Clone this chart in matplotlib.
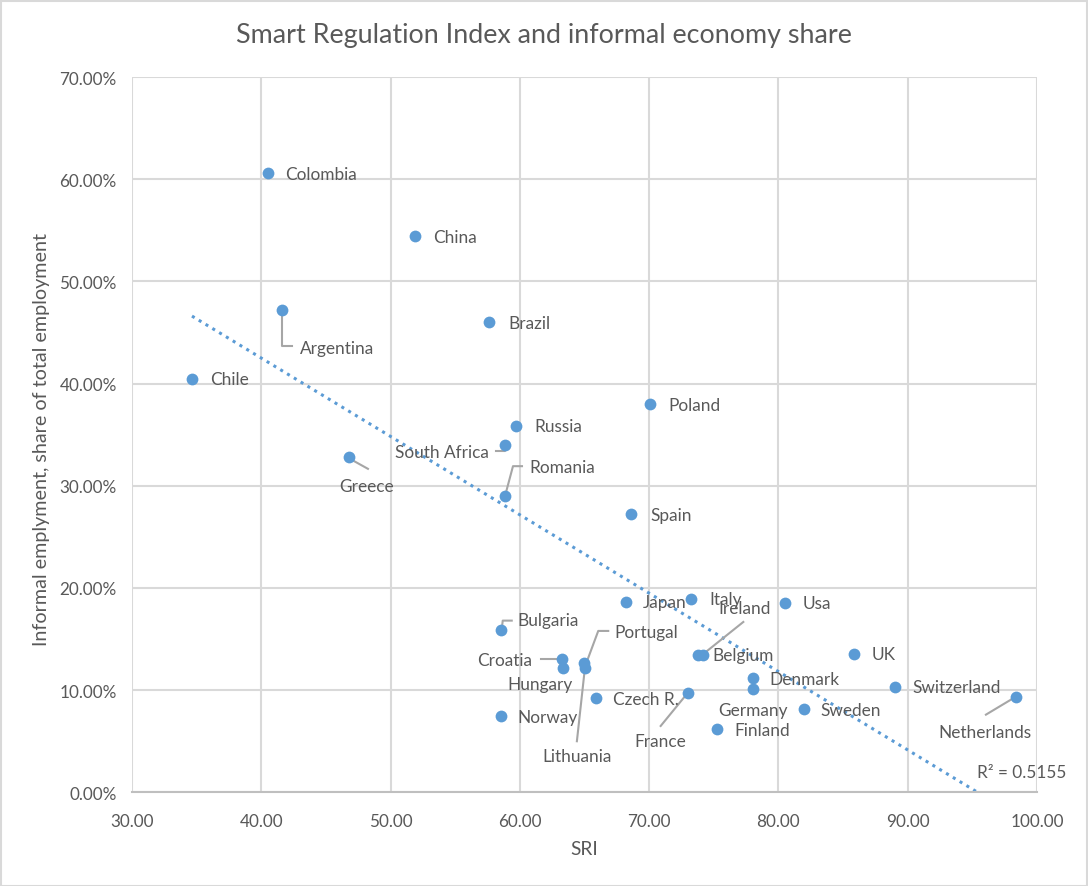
import numpy as np
import matplotlib
matplotlib.use("Agg")
import matplotlib.pyplot as plt
from matplotlib.lines import Line2D
from matplotlib.patches import Rectangle
from matplotlib.ticker import FuncFormatter, MultipleLocator

countries = ["Colombia", "China", "Argentina", "Brazil", "Chile", "Poland", "Russia",
             "South Africa", "Romania", "Greece", "Spain", "Japan", "Italy", "Usa",
             "Bulgaria", "Belgium", "Ireland", "UK", "Croatia", "Hungary", "Portugal",
             "Lithuania", "Czech R.", "Norway", "France", "Denmark", "Germany",
             "Switzerland", "Netherlands", "Sweden", "Finland"]
sri = [40.52, 51.89, 41.60, 57.61, 34.64, 70.06, 59.70,
       58.85, 58.85, 46.78, 68.59, 68.21, 73.26, 80.50,
       58.52, 73.80, 74.19, 85.84, 63.23, 63.31, 64.98,
       65.03, 65.89, 58.52, 72.98, 78.00, 78.00,
       89.01, 98.37, 81.95, 75.22]
informal = [0.6063, 0.5447, 0.4722, 0.4605, 0.4046, 0.3802, 0.3589,
            0.3400, 0.2898, 0.3283, 0.2725, 0.1860, 0.1893, 0.1853,
            0.1592, 0.1344, 0.1344, 0.1354, 0.1305, 0.1217, 0.1266,
            0.1214, 0.0920, 0.0744, 0.0972, 0.1122, 0.1011,
            0.1034, 0.0936, 0.0816, 0.0620]
r2_text = "R² = 0.5155"
title = "Smart Regulation Index and informal economy share"
x_title = "SRI"
y_title = "Informal emplyment, share of total employment"

# label placement: (dx px, dy px (down positive), ha, leader path offsets in px or None)
placement = {
    "Colombia": (17, 1, "left", None),
    "China": (18, 1, "left", None),
    "Argentina": (18, 38, "left", [(0, 0), (0, 36), (10, 36)]),
    "Brazil": (19, 1, "left", None),
    "Chile": (18, 0, "left", None),
    "Poland": (18, 1, "left", None),
    "Russia": (18, 0, "left", None),
    "South Africa": (-16, 7, "right", [(0, 0), (0, 6), (-9, 6)]),
    "Romania": (24, -29, "left", [(0, 0), (8, -30), (17, -30)]),
    "Greece": (18, 29, "center", [(1, 2), (19, 12)]),
    "Spain": (19, 1, "left", None),
    "Japan": (17, 0, "left", None),
    "Italy": (18, 0, "left", None),
    "Usa": (18, 0, "left", None),
    "Bulgaria": (17, -10, "left", [(1, 0), (2, -9), (11, -9)]),
    "Belgium": (14, 0, "left", None),
    "Ireland": (41, -47, "center", [(0, -1), (40, -33)]),
    "UK": (18, 0, "left", None),
    "Croatia": (-29, 1, "right", [(0, 0), (-21, 0)]),
    "Hungary": (-23, 16, "center", None),
    "Portugal": (30, -31, "left", [(1, 3), (14, -32), (24, -32)]),
    "Lithuania": (-8, 88, "center", [(0, 0), (-8, 73)]),
    "Czech R.": (17, 1, "left", None),
    "Norway": (17, 1, "left", None),
    "France": (-27, 48, "center", [(0, 0), (-27, 33)]),
    "Denmark": (17, 1, "left", None),
    "Germany": (0, 21, "center", None),
    "Switzerland": (17, 0, "left", None),
    "Netherlands": (-31, 35, "center", [(0, 0), (-30, 18)]),
    "Sweden": (17, 1, "left", None),
    "Finland": (18, 1, "left", None),
}

plt.rcParams['font.family'] = ['Lato', 'DejaVu Sans']
text_color = "#595959"
dot_color = "#5B9BD5"
grid_color = "#D9D9D9"
W, H = 1088, 887

fig = plt.figure(figsize=(W / 100, H / 100), dpi=100)
ax = fig.add_axes([132 / W, 1 - 793.3 / H, (1037 - 132) / W, (793.3 - 78) / H])
ax.set_xlim(30, 100)
ax.set_ylim(0, 0.7)
ax.xaxis.set_major_locator(MultipleLocator(10))
ax.yaxis.set_major_locator(MultipleLocator(0.1))
ax.xaxis.set_major_formatter(FuncFormatter(lambda v, p: f"{v:.2f}"))
ax.yaxis.set_major_formatter(FuncFormatter(lambda v, p: f"{v * 100:.2f}%"))
ax.grid(True, color=grid_color, linewidth=1.5)
ax.set_axisbelow(True)
for s in ["top", "right", "left"]:
    ax.spines[s].set_visible(False)
ax.spines["bottom"].set_color("#BFBFBF")
ax.spines["bottom"].set_linewidth(1.5)
ax.tick_params(length=0, colors=text_color, labelsize=12.3)
ax.tick_params(axis="x", pad=15)
ax.tick_params(axis="y", pad=11)

# trendline (linear least squares)
xs = np.array(sri)
ys = np.array(informal)
m, b = np.polyfit(xs, ys, 1)
x_end = min(100.0, -b / m)
tx = np.array([xs.min(), x_end])
ax.plot(tx, m * tx + b, linestyle=(0, (1, 1.6)), color=dot_color, linewidth=2.2, zorder=2)

ax.scatter(xs, ys, s=72, color=dot_color, zorder=4, linewidths=0)

for name, x, y in zip(countries, sri, informal):
    dx, dy, ha, path = placement[name]
    ax.annotate(name, (x, y), xytext=(dx, -dy), textcoords="offset pixels",
                ha=ha, va="center", fontsize=12.4, color=text_color, zorder=5)
    if path is not None:
        px, py = ax.transData.transform((x, y))
        lx = [px + p[0] for p in path]
        ly = [py - p[1] for p in path]
        ax.add_line(Line2D(lx, ly, transform=None, color="#A6A6A6", linewidth=1.5, zorder=3))

ax.annotate(r2_text, (1, 0), xycoords="axes fraction", xytext=(-60, 20),
            textcoords="offset pixels", ha="left", va="center", fontsize=12.4,
            color=text_color)

fig.text(584 / W, 1 - 850 / H, x_title, ha="center", va="center", fontsize=13.8,
         color=text_color)
fig.text(41.5 / W, 1 - 440 / H, y_title, ha="center", va="center", rotation=90,
         fontsize=14.2, color=text_color)
fig.text(544 / W, 1 - 36 / H, title, ha="center", va="center", fontsize=19.4,
         color=text_color)

fig.patches.append(Rectangle((0.5 / W, 0.5 / H), 1 - 2 / W, 1 - 2 / H,
                             transform=fig.transFigure, fill=False,
                             edgecolor="#D9D9D9", linewidth=1.5))

fig.savefig("out.png", dpi=100)
